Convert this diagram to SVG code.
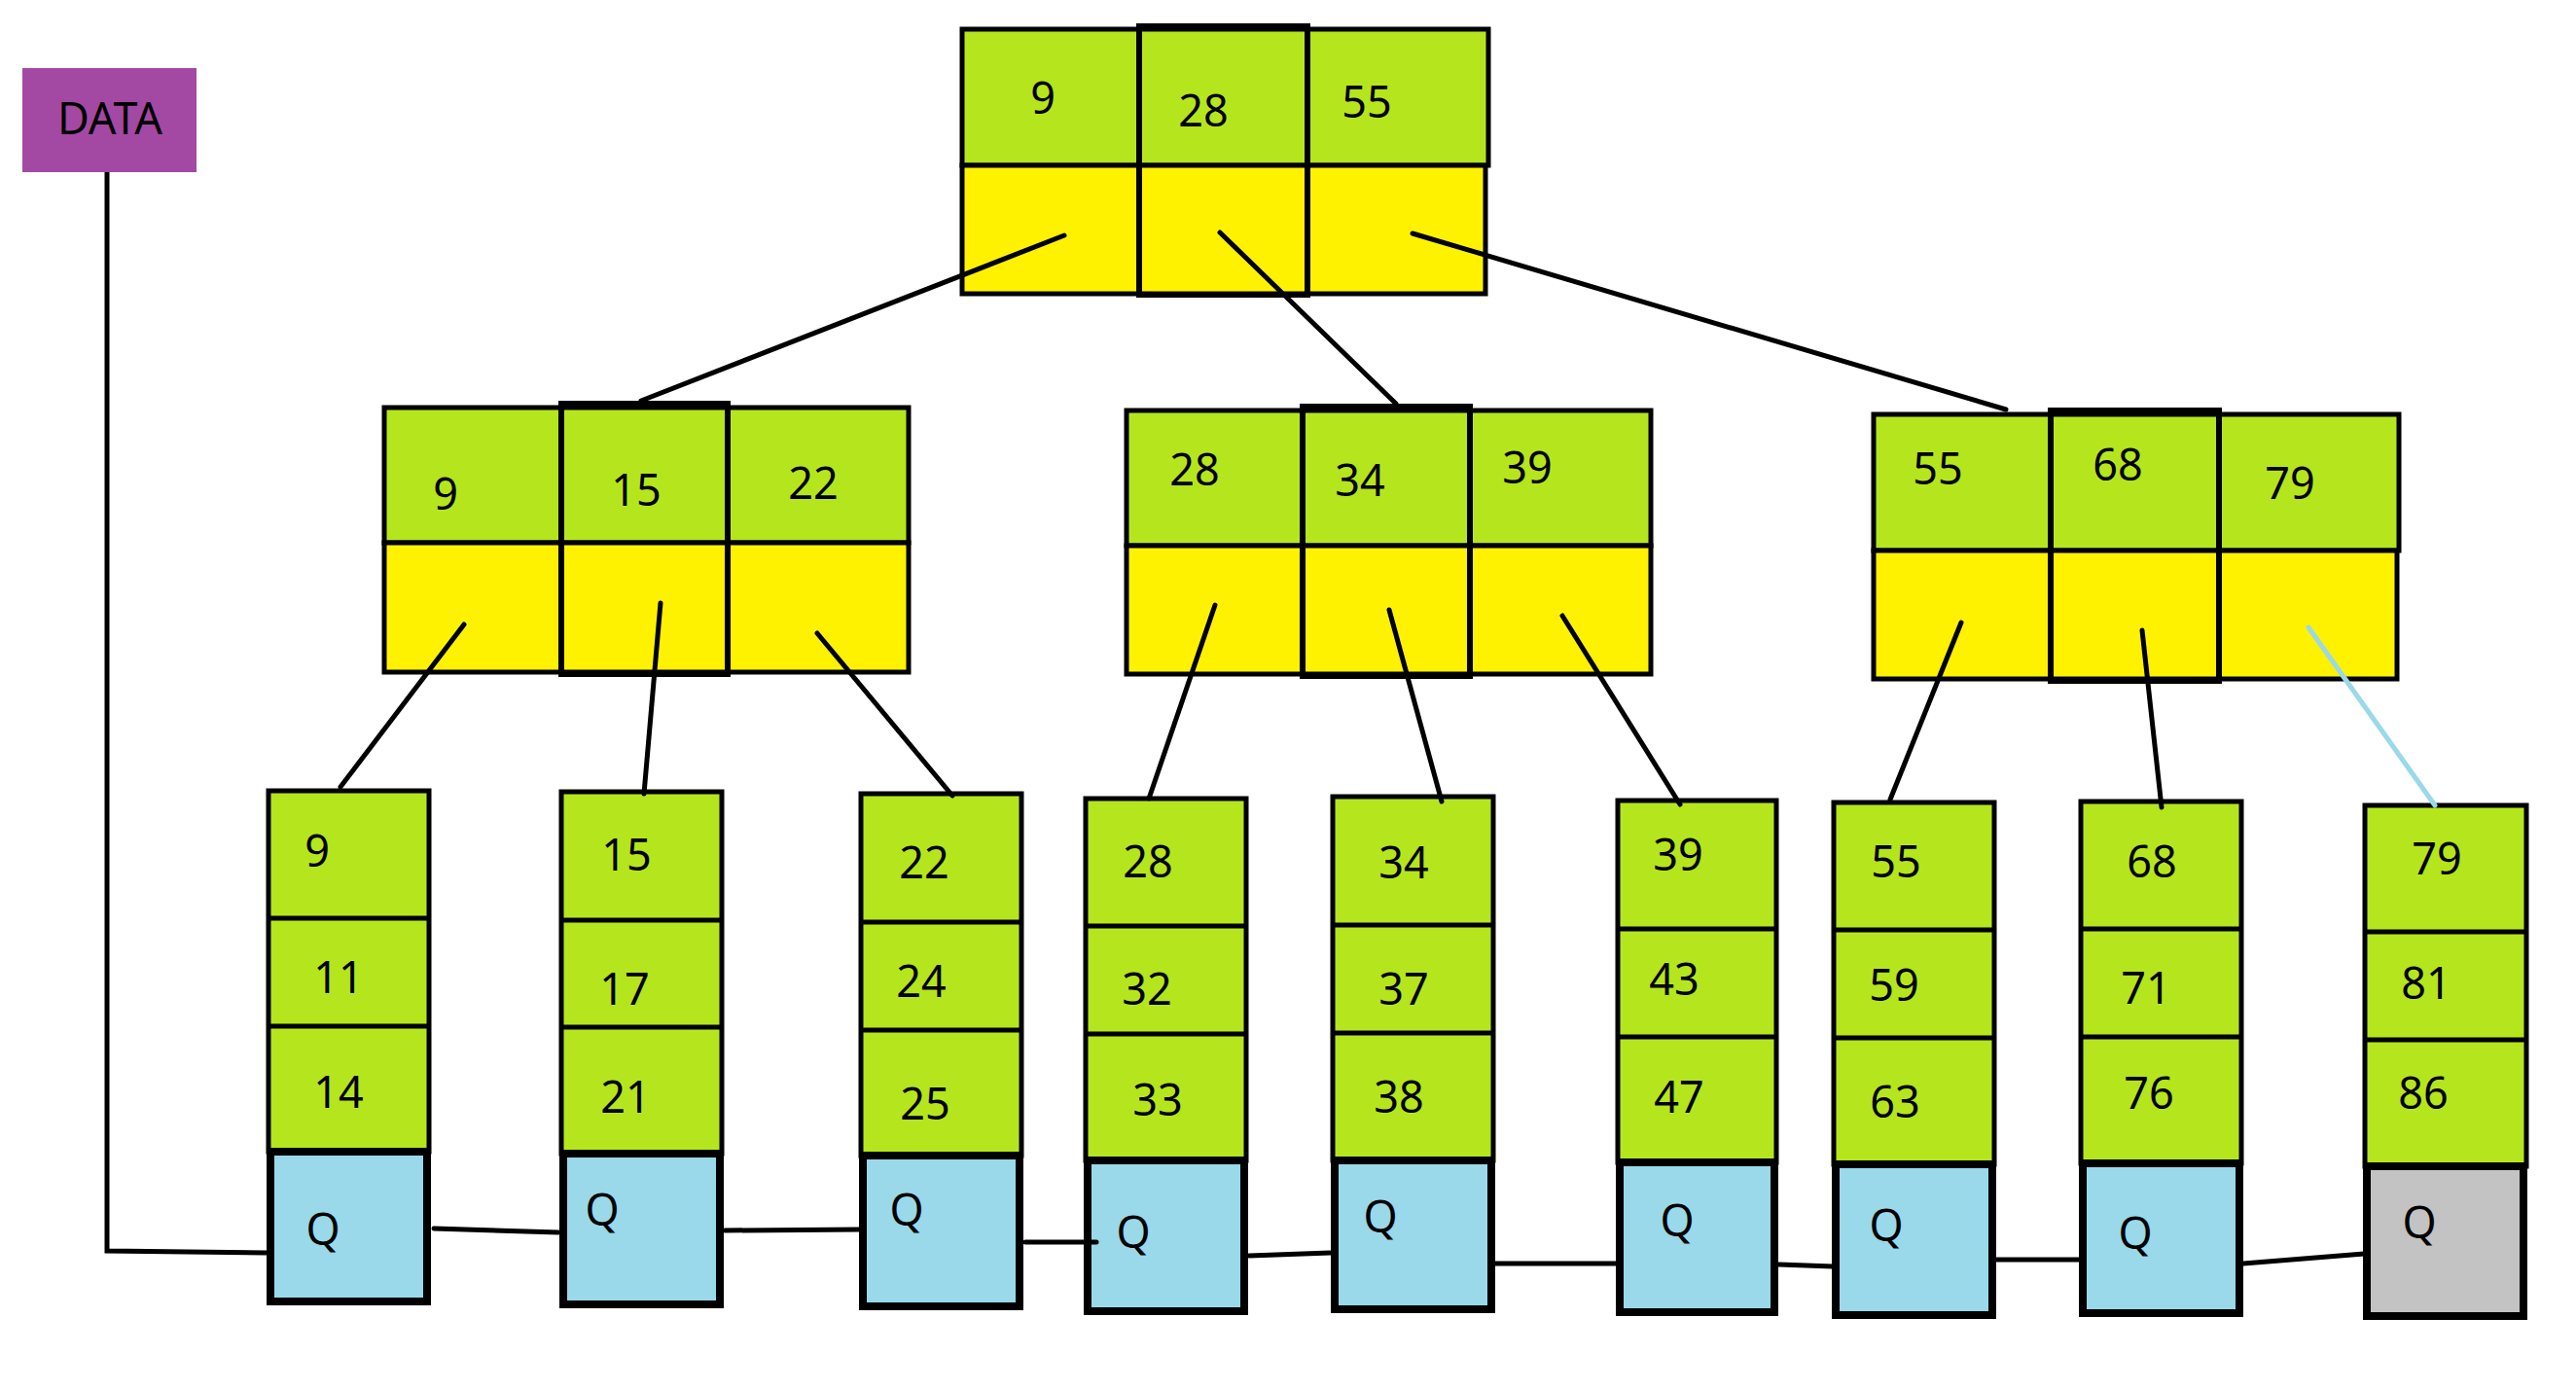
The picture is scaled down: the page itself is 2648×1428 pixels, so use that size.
<svg xmlns="http://www.w3.org/2000/svg" width="2648" height="1428" viewBox="0 0 2648 1428">
<style>
.g{fill:#b5e61d;stroke:#000;stroke-width:5}
.y{fill:#fff200;stroke:#000;stroke-width:5}
.q{fill:#99d9ea;stroke:#000;stroke-width:8}
.qg{fill:#c3c3c3;stroke:#000;stroke-width:8}
.m{fill:none;stroke:#000;stroke-width:6}
.d{stroke:#000;stroke-width:5;fill:none}
.c{stroke:#000;stroke-width:5;fill:none;stroke-linecap:round}
.cb{stroke:#99d9ea;stroke-width:5;fill:none;stroke-linecap:round}
text{font-family:"Noto Sans","Open Sans",sans-serif;font-size:45px;fill:#000;text-anchor:middle}
</style>
<rect width="2648" height="1428" fill="#fff"/>

<g id="data">
<rect x="23" y="70" width="179" height="107" fill="#a349a4"/>
<text x="113" y="138">DATA</text>
</g>

<g id="root">
<rect class="g" x="989" y="30" width="541" height="140"/>
<rect class="y" x="989" y="170" width="538" height="132"/>
<line class="d" x1="1171" y1="30" x2="1171" y2="302"/>
<line class="d" x1="1344" y1="30" x2="1344" y2="302"/>
<rect class="m" x="1171" y="27" width="173" height="276"/>
<text x="1072" y="117">9</text>
<text x="1237" y="130">28</text>
<text x="1405" y="121">55</text>
</g>

<g id="mid-left">
<rect class="g" x="395" y="419" width="539" height="139"/>
<rect class="y" x="395" y="558" width="539" height="133"/>
<line class="d" x1="577" y1="419" x2="577" y2="691"/>
<line class="d" x1="748" y1="419" x2="748" y2="691"/>
<rect class="m" x="577" y="415" width="171" height="278"/>
<text x="458" y="524">9</text>
<text x="654" y="520">15</text>
<text x="836" y="513">22</text>
</g>

<g id="mid-middle">
<rect class="g" x="1158" y="422" width="539" height="139"/>
<rect class="y" x="1158" y="561" width="539" height="132"/>
<line class="d" x1="1339" y1="422" x2="1339" y2="693"/>
<line class="d" x1="1511" y1="422" x2="1511" y2="693"/>
<rect class="m" x="1339" y="418" width="172" height="277"/>
<text x="1228" y="499">28</text>
<text x="1398" y="510">34</text>
<text x="1570" y="497">39</text>
</g>

<g id="mid-right">
<rect class="g" x="1926" y="426" width="540" height="140"/>
<rect class="y" x="1926" y="566" width="538" height="132"/>
<line class="d" x1="2108" y1="426" x2="2108" y2="698"/>
<line class="d" x1="2281" y1="426" x2="2281" y2="698"/>
<rect class="m" x="2108" y="422" width="173" height="278"/>
<text x="1992" y="498">55</text>
<text x="2177" y="494">68</text>
<text x="2354" y="513">79</text>
</g>

<g id="leaf-9">
<rect class="g" x="276" y="813" width="165" height="371"/>
<line class="d" x1="276" y1="944" x2="441" y2="944"/>
<line class="d" x1="276" y1="1055" x2="441" y2="1055"/>
<rect class="q" x="278" y="1184" width="161" height="154"/>
<text x="326" y="891">9</text>
<text x="348" y="1021">11</text>
<text x="348" y="1139">14</text>
<text x="332" y="1280">Q</text>
</g>

<g id="leaf-15">
<rect class="g" x="577" y="814" width="165" height="372"/>
<line class="d" x1="577" y1="946" x2="742" y2="946"/>
<line class="d" x1="577" y1="1056" x2="742" y2="1056"/>
<rect class="q" x="579" y="1186" width="161" height="155"/>
<text x="644" y="895">15</text>
<text x="642" y="1033">17</text>
<text x="643" y="1144">21</text>
<text x="619" y="1260">Q</text>
</g>

<g id="leaf-22">
<rect class="g" x="885" y="816" width="165" height="372"/>
<line class="d" x1="885" y1="948" x2="1050" y2="948"/>
<line class="d" x1="885" y1="1059" x2="1050" y2="1059"/>
<rect class="q" x="887" y="1188" width="161" height="155"/>
<text x="950" y="903">22</text>
<text x="947" y="1025">24</text>
<text x="951" y="1151">25</text>
<text x="932" y="1260">Q</text>
</g>

<g id="leaf-28">
<rect class="g" x="1116" y="821" width="165" height="372"/>
<line class="d" x1="1116" y1="952" x2="1281" y2="952"/>
<line class="d" x1="1116" y1="1063" x2="1281" y2="1063"/>
<rect class="q" x="1118" y="1193" width="161" height="155"/>
<text x="1180" y="902">28</text>
<text x="1179" y="1033">32</text>
<text x="1190" y="1147">33</text>
<text x="1165" y="1283">Q</text>
</g>

<g id="leaf-34">
<rect class="g" x="1370" y="819" width="165" height="374"/>
<line class="d" x1="1370" y1="951" x2="1535" y2="951"/>
<line class="d" x1="1370" y1="1062" x2="1535" y2="1062"/>
<rect class="q" x="1372" y="1193" width="161" height="153"/>
<text x="1443" y="903">34</text>
<text x="1443" y="1033">37</text>
<text x="1438" y="1144">38</text>
<text x="1419" y="1267">Q</text>
</g>

<g id="leaf-39">
<rect class="g" x="1663" y="823" width="163" height="372"/>
<line class="d" x1="1663" y1="955" x2="1826" y2="955"/>
<line class="d" x1="1663" y1="1066" x2="1826" y2="1066"/>
<rect class="q" x="1665" y="1195" width="159" height="154"/>
<text x="1725" y="895">39</text>
<text x="1721" y="1023">43</text>
<text x="1726" y="1144">47</text>
<text x="1724" y="1271">Q</text>
</g>

<g id="leaf-55">
<rect class="g" x="1885" y="825" width="165" height="372"/>
<line class="d" x1="1885" y1="956" x2="2050" y2="956"/>
<line class="d" x1="1885" y1="1067" x2="2050" y2="1067"/>
<rect class="q" x="1887" y="1197" width="161" height="155"/>
<text x="1949" y="902">55</text>
<text x="1947" y="1029">59</text>
<text x="1948" y="1149">63</text>
<text x="1939" y="1276">Q</text>
</g>

<g id="leaf-68">
<rect class="g" x="2139" y="824" width="165" height="372"/>
<line class="d" x1="2139" y1="955" x2="2304" y2="955"/>
<line class="d" x1="2139" y1="1066" x2="2304" y2="1066"/>
<rect class="q" x="2141" y="1196" width="161" height="154"/>
<text x="2212" y="902">68</text>
<text x="2206" y="1032">71</text>
<text x="2209" y="1140">76</text>
<text x="2195" y="1284">Q</text>
</g>

<g id="leaf-79">
<rect class="g" x="2431" y="828" width="166" height="371"/>
<line class="d" x1="2431" y1="958" x2="2597" y2="958"/>
<line class="d" x1="2431" y1="1069" x2="2597" y2="1069"/>
<rect class="qg" x="2433" y="1199" width="161" height="154"/>
<text x="2505" y="899">79</text>
<text x="2494" y="1027">81</text>
<text x="2491" y="1140">86</text>
<text x="2487" y="1273">Q</text>
</g>

<g id="connectors">
<line class="c" x1="1094" y1="242" x2="659" y2="412"/>
<line class="c" x1="1254" y1="239" x2="1435" y2="415"/>
<line class="c" x1="1452" y1="240" x2="2062" y2="421"/>
<line class="c" x1="477" y1="642" x2="350" y2="809"/>
<line class="c" x1="679" y1="620" x2="662" y2="816"/>
<line class="c" x1="840" y1="651" x2="979" y2="818"/>
<line class="c" x1="1249" y1="622" x2="1181" y2="821"/>
<line class="c" x1="1428" y1="627" x2="1482" y2="824"/>
<line class="c" x1="1606" y1="633" x2="1727" y2="827"/>
<line class="c" x1="2016" y1="640" x2="1943" y2="822"/>
<line class="c" x1="2202" y1="648" x2="2222" y2="830"/>
<line class="cb" x1="2373" y1="645" x2="2503" y2="828"/>
<polyline class="d" points="110,177 110,1286 274,1288"/>
<line class="c" x1="446" y1="1263" x2="574" y2="1267"/>
<line class="c" x1="745" y1="1265" x2="884" y2="1264"/>
<line class="c" x1="1054" y1="1277" x2="1127" y2="1277"/>
<line class="c" x1="1284" y1="1291" x2="1367" y2="1288"/>
<line class="c" x1="1536" y1="1299" x2="1661" y2="1299"/>
<line class="c" x1="1829" y1="1300" x2="1884" y2="1302"/>
<line class="c" x1="2050" y1="1295" x2="2139" y2="1295"/>
<line class="c" x1="2306" y1="1299" x2="2430" y2="1289"/>
</g>
</svg>
